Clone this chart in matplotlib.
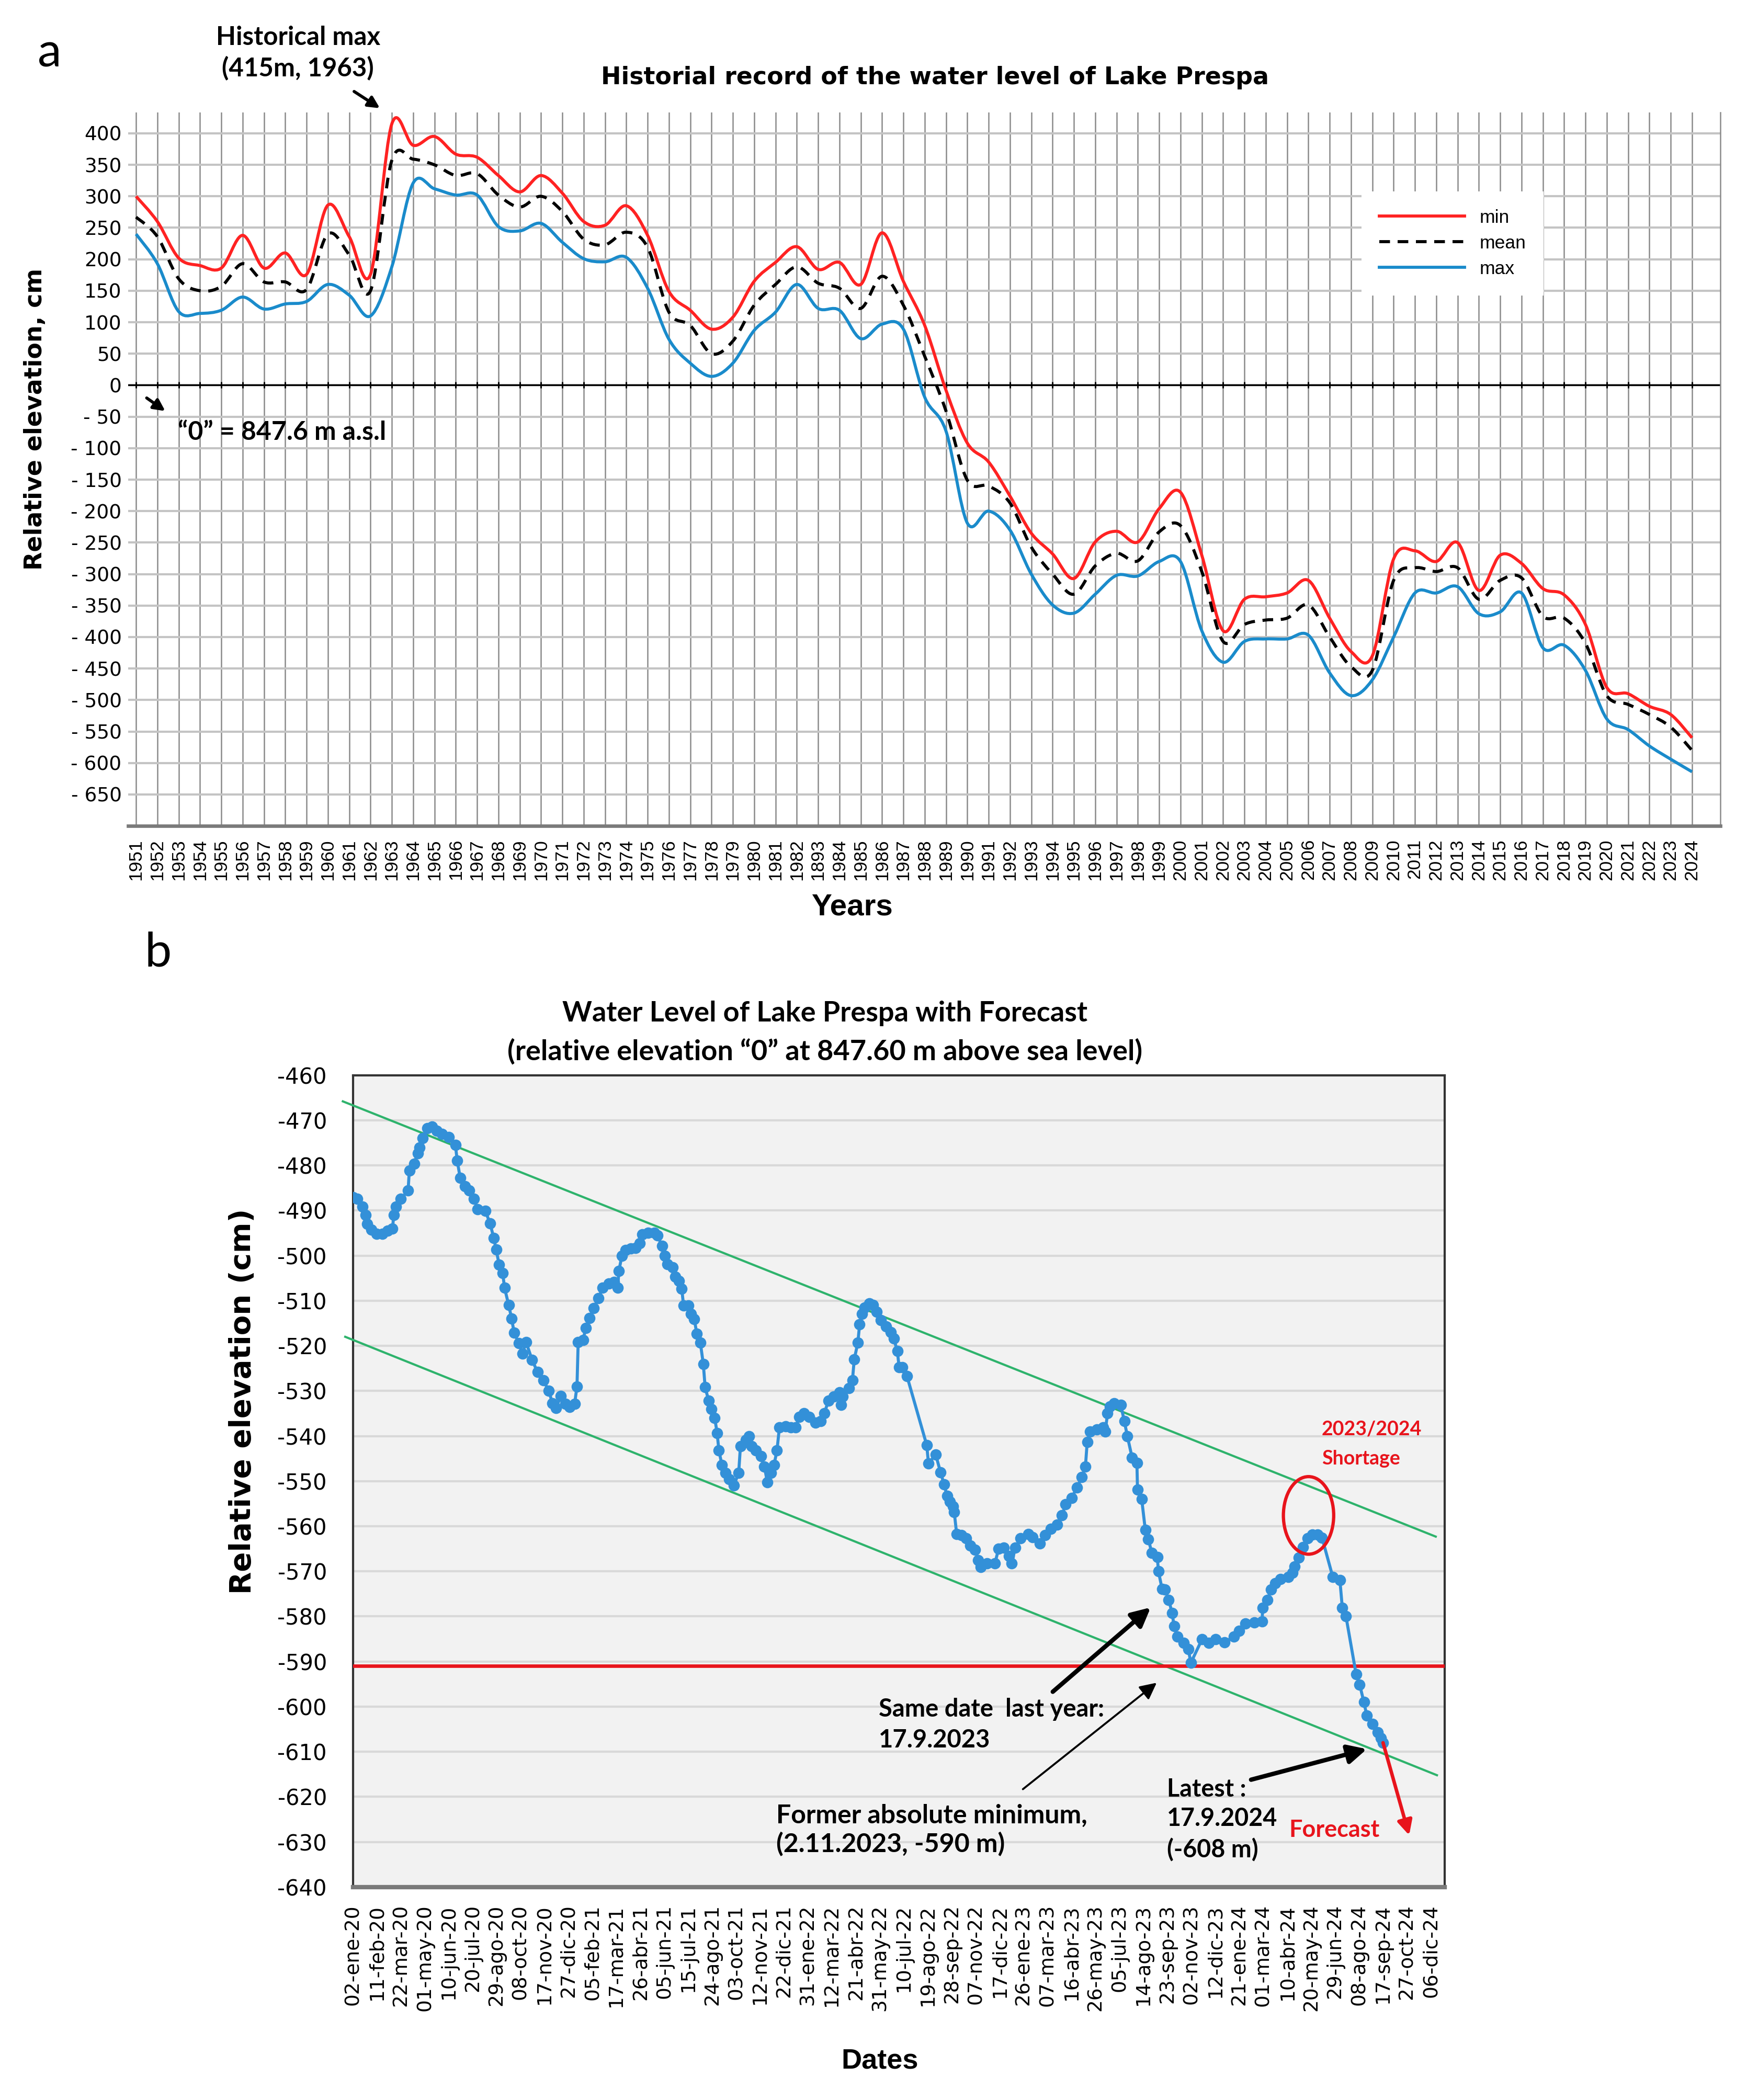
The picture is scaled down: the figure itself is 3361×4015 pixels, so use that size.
import numpy as np
import matplotlib
matplotlib.use('Agg')
import matplotlib.pyplot as plt
from matplotlib.patches import Ellipse, PathPatch
from matplotlib.path import Path
from matplotlib.lines import Line2D

# ---------------- panel a: letne vrednosti (odcitane s slike) ----------------
leta = list(range(1951, 2025))
vrednosti_min = [300, 260, 202, 190, 186, 238, 186, 210, 176, 286,
                 236, 176, 415, 381, 395, 367, 362, 333, 307, 333,
                 305, 260, 254, 285, 238, 149, 119, 89, 108, 165,
                 195, 220, 184, 195, 160, 242, 165, 95, -8, -92,
                 -122, -176, -235, -268, -307, -249, -232, -249, -196, -170,
                 -270, -390, -340, -336, -330, -310, -370, -423, -430, -276,
                 -263, -280, -250, -326, -270, -283, -323, -333, -380, -480,
                 -490, -510, -523, -560]
vrednosti_mean = [267, 236, 169, 150, 157, 193, 164, 164, 152, 240,
                  207, 150, 357, 359, 350, 333, 336, 302, 283, 300,
                  276, 232, 223, 243, 219, 116, 95, 50, 70, 127,
                  160, 188, 162, 154, 122, 173, 127, 46, -41, -151,
                  -160, -187, -257, -300, -332, -287, -267, -279, -233, -223,
                  -296, -407, -380, -373, -370, -349, -400, -447, -453, -310,
                  -290, -296, -290, -340, -310, -306, -367, -370, -410, -493,
                  -507, -523, -543, -580]
vrednosti_max = [240, 193, 117, 114, 119, 140, 121, 129, 133, 160,
                 143, 110, 188, 321, 312, 302, 302, 252, 245, 257,
                 227, 201, 196, 203, 154, 73, 35, 14, 35, 87,
                 116, 160, 122, 119, 74, 97, 89, -19, -73, -219,
                 -200, -230, -300, -349, -362, -332, -302, -303, -280, -280,
                 -390, -440, -407, -403, -403, -397, -457, -493, -468, -400,
                 -330, -330, -320, -363, -360, -330, -417, -413, -453, -530,
                 -547, -573, -594, -614]
oznake_let = [str(l) for l in leta]
oznake_let[leta.index(1983)] = '1893'   # tako je napisano v originalu
oznake_y1 = list(range(400, -651, -50))

# ---------------- panel b: gladina 2020-2024 (dnevi od 02-ene-20) ----------------
dnevi = [0, 7, 16, 21, 24, 31, 39, 49, 58, 66, 68, 72, 80, 92, 94, 102, 108, 111, 116, 124,
         132, 140, 149, 160, 171, 174, 179, 187, 194, 202, 208, 221, 229, 235, 239, 244, 250, 253, 260, 265,
         269, 277, 283, 289, 299, 308, 318, 327, 333, 339, 347, 355, 362, 370, 374, 376, 384, 389, 395, 402,
         410, 417, 427, 436, 442, 444, 449, 455, 464, 472, 479, 483, 493, 503, 508, 516, 521, 525, 534, 538,
         544, 549, 552, 560, 564, 570, 574, 580, 585, 588, 594, 598, 604, 608, 611, 616, 622, 628, 636, 644,
         647, 656, 661, 666, 673, 681, 687, 692, 698, 703, 708, 712, 722, 731, 739, 745, 753, 762, 772, 781,
         787, 794, 803, 812, 815, 818, 828, 834, 837, 843, 846, 850, 854, 862, 868, 874, 881, 890, 898, 903,
         909, 912, 917, 925, 958, 961, 973, 981, 987, 992, 997, 1002, 1004, 1008, 1016, 1024, 1031, 1039, 1044, 1048,
         1059, 1072, 1078, 1087, 1095, 1100, 1106, 1115, 1128, 1135, 1147, 1156, 1165, 1176, 1184, 1190, 1200, 1209, 1217, 1223,
         1226, 1231, 1242, 1253, 1256, 1260, 1264, 1271, 1282, 1288, 1293, 1301, 1309, 1310, 1317, 1323, 1328, 1334, 1343, 1345,
         1351, 1356, 1362, 1368, 1371, 1377, 1387, 1395, 1399, 1418, 1429, 1440, 1455, 1471, 1480, 1490, 1505, 1518, 1519, 1527,
         1533, 1540, 1549, 1562, 1569, 1572, 1579, 1586, 1594, 1602, 1611, 1618, 1636, 1648, 1652, 1658, 1675, 1681, 1688, 1693,
         1702, 1711, 1716, 1720]
gladina = [-487, -487.4, -489.2, -491, -493, -494.3, -495.2, -495.2, -494.5, -494, -491, -489.2, -487.4, -485.6, -481.2, -479.6, -477.3, -476, -474, -471.8,
           -471.4, -472.3, -473, -473.7, -475.5, -478.9, -482.8, -484.6, -485.6, -487.4, -489.7, -490.1, -492.9, -496.1, -498.6, -502, -503.9, -507.1, -511, -514,
           -517.1, -519.4, -521.7, -519.2, -523.1, -525.8, -527.7, -530, -532.7, -533.8, -531.1, -532.9, -533.6, -532.9, -529, -519.2, -518.7, -516, -513.9, -511.6,
           -509.4, -507.1, -506.2, -505.9, -507.1, -503.4, -500, -498.8, -498.4, -498.3, -497.3, -495.3, -495, -495, -495.5, -497.8, -500.1, -501.9, -502.6, -504.7,
           -505.6, -507.4, -511.1, -511.1, -512.9, -514.1, -517.3, -519.3, -524.1, -529.2, -532.2, -534, -536, -539.3, -543.2, -546.4, -548.2, -549.6, -550.9, -548.2,
           -542.2, -540.9, -540, -542.2, -543.2, -544.5, -546.8, -550.3, -548.2, -546.4, -543.2, -538.1, -537.9, -538.1, -538.1, -535.8, -534.9, -535.8, -537, -536.7,
           -534.9, -532.2, -531.2, -530.3, -533.1, -531.2, -529.4, -527.6, -523, -519.3, -515.2, -512.9, -511.5, -510.6, -510.9, -512.5, -514.3, -515.7, -517, -518.4,
           -521.2, -524.8, -524.8, -526.7, -542, -546.1, -544.1, -548, -550.7, -553.3, -554.6, -555.6, -556.9, -561.7, -562, -562.7, -564.3, -565.2, -567.5, -569.1,
           -568.2, -568.2, -565, -564.7, -566.6, -568.2, -564.7, -562.7, -561.7, -562.4, -563.8, -562, -560.6, -559.7, -557.6, -555.1, -553.7, -551.4, -549.1, -546.8,
           -541.3, -539, -538.6, -538.1, -539, -535, -533.5, -532.8, -533.1, -536.7, -540, -544.8, -546, -551.9, -554, -560.8, -562.9, -565.9, -566.8, -570,
           -573.9, -574, -576.3, -579.3, -582.2, -584.5, -585.9, -587.3, -590.3, -585, -585.9, -585, -585.7, -584.5, -583.2, -581.6, -581.3, -581.1, -578.1, -576.3,
           -574, -572.6, -571.7, -571.2, -570.3, -568.9, -566.9, -564.6, -562.7, -561.8, -561.8, -562.5, -571.2, -572, -578.1, -579.9, -592.8, -595.1, -599, -602,
           -603.8, -605.7, -607, -608]
oznake_datumov = ['02-ene-20', '11-feb-20', '22-mar-20', '01-may-20', '10-jun-20', '20-jul-20', '29-ago-20', '08-oct-20',
                  '17-nov-20', '27-dic-20', '05-feb-21', '17-mar-21', '26-abr-21', '05-jun-21', '15-jul-21', '24-ago-21',
                  '03-oct-21', '12-nov-21', '22-dic-21', '31-ene-22', '12-mar-22', '21-abr-22', '31-may-22', '10-jul-22',
                  '19-ago-22', '28-sep-22', '07-nov-22', '17-dic-22', '26-ene-23', '07-mar-23', '16-abr-23', '26-may-23',
                  '05-jul-23', '14-ago-23', '23-sep-23', '02-nov-23', '12-dic-23', '21-ene-24', '01-mar-24', '10-abr-24',
                  '20-may-24', '29-jun-24', '08-ago-24', '17-sep-24', '27-oct-24', '06-dic-24']
korak_oznak = 40  # dni med oznakami
oznake_y2 = list(range(-640, -459, 10))
trend_zgoraj_dnevi = [-17, 1808]
trend_zgoraj = [-465.8, -562.3]
trend_spodaj_dnevi = [-13, 1810]
trend_spodaj = [-518, -615.2]
prejsnji_minimum = -591

KALIBRI = ['Lato', 'DejaVu Sans']
ARIAL = ['Liberation Sans', 'DejaVu Sans']
NARROW = ['Liberation Sans Narrow', 'Liberation Sans', 'DejaVu Sans']


def gladka_krivulja(ax, x, y, **kw):
    """Zglajena crta skozi tocke (kot 'smoothed line' v Excelu) - Bezierjevi odseki."""
    x = np.asarray(x, float)
    y = np.asarray(y, float)
    tocke = [(x[0], y[0])]
    kode = [Path.MOVETO]
    n = len(x)
    for i in range(n - 1):
        i0 = max(i - 1, 0)
        i3 = min(i + 2, n - 1)
        c1 = (x[i] + (x[i + 1] - x[i0]) / 6, y[i] + (y[i + 1] - y[i0]) / 6)
        c2 = (x[i + 1] - (x[i3] - x[i]) / 6, y[i + 1] - (y[i3] - y[i]) / 6)
        tocke += [c1, c2, (x[i + 1], y[i + 1])]
        kode += [Path.CURVE4] * 3
    ax.add_patch(PathPatch(Path(tocke, kode), fill=False, **kw))


fig = plt.figure(figsize=(3361 / 300, 4015 / 300), dpi=300)

# ======================= panel a =======================
ax1 = fig.add_axes([0.0729, 0.6067, 0.9057, 0.3397])
gladka_krivulja(ax1, leta, vrednosti_min, edgecolor='#ff2222', lw=1.4, zorder=4)
gladka_krivulja(ax1, leta, vrednosti_mean, edgecolor='black', lw=1.4, linestyle=(0, (3.5, 2.5)), zorder=4)
gladka_krivulja(ax1, leta, vrednosti_max, edgecolor='#1a8bcb', lw=1.4, zorder=4)

ax1.set_xlim(1950.63, 2025.33)
ax1.set_ylim(-700, 433)
ax1.set_xticks(leta)
ax1.set_xticklabels(oznake_let, rotation=90, fontsize=8.5, family=NARROW)
ax1.set_yticks(oznake_y1)
ax1.set_yticklabels([str(v) if v >= 0 else f'- {abs(v)}' for v in oznake_y1], fontsize=9)
ax1.tick_params(axis='x', length=0, pad=6)
ax1.tick_params(axis='y', length=0, pad=3)
ax1.grid(axis='x', color='#8a8a8a', lw=0.6, zorder=0)
ax1.grid(axis='y', color='#c4c4c4', lw=1.0, zorder=0)
ax1.set_axisbelow(True)
ax1.axhline(0, color='black', lw=0.8, zorder=2)
ax1.plot(leta, np.zeros(len(leta)), ls='none', marker='|', ms=3, mew=0.7, color='black', zorder=2)
for s in ['top', 'left']:
    ax1.spines[s].set_visible(False)
ax1.spines['right'].set_color('#8a8a8a')
ax1.spines['right'].set_linewidth(0.6)
ax1.spines['bottom'].set_color('#7a7a7a')
ax1.spines['bottom'].set_linewidth(1.6)

ax1.set_xlabel('Years', fontsize=14, fontweight='bold', family=ARIAL)
ax1.xaxis.set_label_coords(0.4545, -0.094)
ax1.set_ylabel('Relative elevation, cm', fontsize=11, fontweight='bold')
ax1.yaxis.set_label_coords(-0.051, 0.57)

rocice = [Line2D([], [], color='#ff2222', lw=1.4),
          Line2D([], [], color='black', lw=1.4, dashes=(3.5, 2.5)),
          Line2D([], [], color='#1a8bcb', lw=1.4)]
leg = ax1.legend(rocice, ['min', 'mean', 'max'], loc='upper left', bbox_to_anchor=(0.7753, 0.888),
                 borderaxespad=0, prop={'family': ARIAL, 'size': 8.5}, handlelength=4.6,
                 labelspacing=0.45, handletextpad=0.8, borderpad=0.9, frameon=True, fancybox=False)
leg.get_frame().set_facecolor('white')
leg.get_frame().set_edgecolor('white')
leg.get_frame().set_alpha(1)

fig.text(0.5317, 0.9631, 'Historial record of the water level of Lake Prespa',
         ha='center', va='center', fontsize=11, fontweight='bold')

# opombe na panelu a
ax1.text(1958.6, 540.4, 'Historical max', ha='center', va='baseline', fontsize=11.8,
         fontweight='bold', family=KALIBRI)
ax1.text(1958.6, 490.5, '(415m, 1963)', ha='center', va='baseline', fontsize=11.8,
         fontweight='bold', family=KALIBRI)
ax1.annotate('', xy=(1962.44, 439.9), xytext=(1961.23, 466.5), annotation_clip=False,
             arrowprops=dict(arrowstyle='-|>', color='black', lw=1.4, mutation_scale=11,
                             shrinkA=0, shrinkB=0))
ax1.text(1952.96, -86.8, '\u201c0\u201d = 847.6 m a.s.l', ha='left', va='baseline',
         fontsize=12, fontweight='bold', family=KALIBRI)
ax1.annotate('', xy=(1952.37, -41.1), xytext=(1951.5, -20.3),
             arrowprops=dict(arrowstyle='-|>', color='black', lw=1.4, mutation_scale=11,
                             shrinkA=0, shrinkB=0))

fig.text(0.0283, 0.9746, 'a', ha='center', va='center', fontsize=22, family=KALIBRI)

# ======================= panel b =======================
ax2 = fig.add_axes([0.2008, 0.1014, 0.6210, 0.3866])
ax2.set_facecolor('#f2f2f2')
ax2.plot(dnevi, gladina, color='#3390d8', lw=1.4, marker='o', ms=4.2, mec='#3390d8',
         mfc='#3390d8', zorder=4)
ax2.plot(trend_zgoraj_dnevi, trend_zgoraj, color='#2eb36c', lw=1.0, zorder=3, clip_on=False)
ax2.plot(trend_spodaj_dnevi, trend_spodaj, color='#2eb36c', lw=1.0, zorder=3, clip_on=False)
ax2.axhline(prejsnji_minimum, color='#e8141c', lw=1.6, zorder=3)

ax2.set_xlim(0, 1823)
ax2.set_ylim(-640, -460)
ax2.set_xticks([i * korak_oznak for i in range(len(oznake_datumov))])
ax2.set_xticklabels(oznake_datumov, rotation=90, fontsize=9)
ax2.set_yticks(oznake_y2)
ax2.set_yticklabels([str(v) for v in oznake_y2], fontsize=10)
ax2.tick_params(axis='x', length=0, pad=8)
ax2.tick_params(axis='y', length=0, pad=12)
ax2.grid(axis='y', color='#d9d9d9', lw=1.0, zorder=0)
ax2.set_axisbelow(True)
for s in ['top', 'left', 'right']:
    ax2.spines[s].set_color('#333333')
    ax2.spines[s].set_linewidth(1.0)
ax2.spines['bottom'].set_color('#7a7a7a')
ax2.spines['bottom'].set_linewidth(2.0)

ax2.set_xlabel('Dates', fontsize=13, fontweight='bold', family=ARIAL)
ax2.xaxis.set_label_coords(0.4825, -0.1985)
ax2.set_ylabel('Relative elevation (cm)', fontsize=13.5, fontweight='bold')
ax2.yaxis.set_label_coords(-0.088, 0.598)

fig.text(0.4692, 1 - 1938 / 4015, 'Water Level of Lake Prespa with Forecast',
         ha='center', va='center', fontsize=13, fontweight='bold', family=KALIBRI)
fig.text(0.4692, 1 - 2010 / 4015, '(relative elevation \u201c0\u201d at 847.60 m above sea level)',
         ha='center', va='center', fontsize=13, fontweight='bold', family=KALIBRI)
fig.text(0.0899, 0.5462, 'b', ha='center', va='center', fontsize=22, family=KALIBRI)

# pomanjkanje 2023/2024
ax2.add_patch(Ellipse((1595.6, -557.6), width=84, height=17.2, fill=False,
                      edgecolor='#e8141c', lw=1.5, zorder=5))
ax2.text(1617.5, -539.8, '2023/2024', color='#e8141c', fontsize=9, fontweight='bold',
         family=KALIBRI, va='baseline')
ax2.text(1617.5, -546.3, 'Shortage', color='#e8141c', fontsize=9, fontweight='bold',
         family=KALIBRI, va='baseline')

# puscice in napisi
debela = dict(arrowstyle='-|>', color='black', lw=2.0, mutation_scale=18, shrinkA=0, shrinkB=0)
tanka = dict(arrowstyle='-|>', color='black', lw=0.9, mutation_scale=16, shrinkA=0, shrinkB=0)
ax2.annotate('', xy=(1332, -578), xytext=(1168.5, -596.7), arrowprops=debela, zorder=6)
ax2.text(878, -602.2, 'Same date  last year:', fontsize=11.3, fontweight='bold', family=KALIBRI, va='baseline')
ax2.text(878, -609.1, '17.9.2023', fontsize=11.3, fontweight='bold', family=KALIBRI, va='baseline')

ax2.annotate('', xy=(1342, -594.7), xytext=(1118.6, -618.3), arrowprops=tanka, zorder=6)
ax2.text(707, -625.8, 'Former absolute minimum,', fontsize=12, fontweight='bold', family=KALIBRI, va='baseline')
ax2.text(707, -632.3, '(2.11.2023, -590 m)', fontsize=12, fontweight='bold', family=KALIBRI, va='baseline')

ax2.annotate('', xy=(1693, -609.4), xytext=(1499.6, -616.2), arrowprops=debela, zorder=6)
ax2.text(1359, -619.9, 'Latest :', fontsize=11.2, fontweight='bold', family=KALIBRI, va='baseline')
ax2.text(1359, -626.4, '17.9.2024', fontsize=11.2, fontweight='bold', family=KALIBRI, va='baseline')
ax2.text(1359, -633.4, '(-608 m)', fontsize=11.2, fontweight='bold', family=KALIBRI, va='baseline')

ax2.annotate('', xy=(1763.6, -628.5), xytext=(dnevi[-1], gladina[-1]),
             arrowprops=dict(arrowstyle='-|>', color='#e8141c', lw=1.6, mutation_scale=14,
                             shrinkA=0, shrinkB=0), zorder=6)
ax2.text(1563, -628.9, 'Forecast', color='#e8141c', fontsize=10.8, fontweight='bold',
         family=KALIBRI, va='baseline')

fig.savefig('out.png', dpi=300, facecolor='white')
